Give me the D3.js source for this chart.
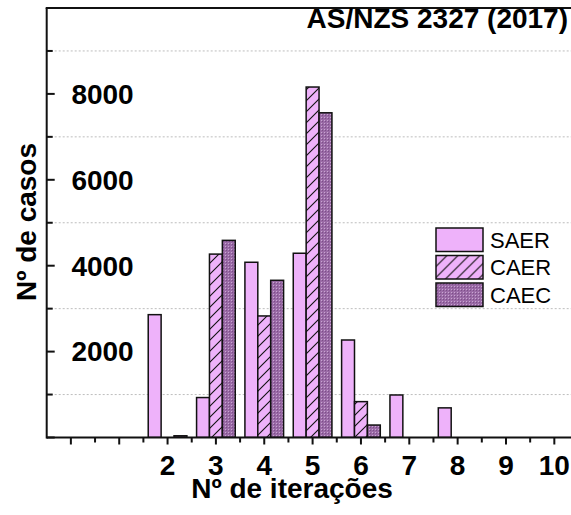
<!DOCTYPE html>
<meta charset="utf-8">
<style>
body { margin: 0; background: #fff; }
svg { display: block; font-family: Arial, "Liberation Sans", sans-serif; }
.grid line { stroke: #bdbdbd; stroke-width: 1; stroke-dasharray: 2,2; }
.bar { stroke: #111; stroke-width: 1.5px; }
.lbl { font-weight: bold; font-size: 28px; fill: #000; }
</style>
<svg width="571" height="515"></svg>
<script src="https://d3js.org/d3.v7.min.js"></script>
<script>

// data
var iteracoes = [2, 3, 4, 5, 6, 7, 8, 9, 10];
var saer = [2860, 930, 4080, 4290, 2270, 990, 690, 0, 0];
var caer = [0, 4270, 2830, 8160, 835, 0, 0, 0, 0];
var caec = [40, 4590, 3660, 7560, 290, 0, 0, 0, 0];
var series = ["SAER", "CAER", "CAEC"];
var yTicks = [2000, 4000, 6000, 8000];
var titulo = "AS/NZS 2327 (2017)";

var svg = d3.select("svg"),
    mLeft = 46.7, mTop = 8, mBottom = 437.5, mRight = 578.5;

var x = d3.scaleLinear().domain([-0.5, 10.5]).range([mLeft, mRight]),
    y = d3.scaleLinear().domain([0, 10000]).range([mBottom, mTop]);

var defs = svg.append("defs");

// hatch for CAER
var hatch = defs.append("pattern")
    .attr("id", "hatch")
    .attr("patternUnits", "userSpaceOnUse")
    .attr("width", 11).attr("height", 11);
hatch.append("rect").attr("width", 11).attr("height", 11).attr("fill", "#eeb2fa");
hatch.append("path").attr("d", "M0,11 L11,0 M-2,2 L2,-2 M9,13 L13,9")
    .attr("stroke", "#111").attr("stroke-width", 1.1);

// dots for CAEC
var dots = defs.append("pattern")
    .attr("id", "dots")
    .attr("patternUnits", "userSpaceOnUse")
    .attr("width", 3).attr("height", 3);
dots.append("rect").attr("width", 3).attr("height", 3).attr("fill", "#9a6aa6");
dots.append("rect").attr("width", 1).attr("height", 1).attr("fill", "#c9a6d2");
dots.append("rect").attr("x", 1).attr("y", 1).attr("width", 1).attr("height", 1).attr("fill", "#7c4f88");

var fills = {SAER: "#eeb2fa", CAER: "url(#hatch)", CAEC: "url(#dots)"};
var valores = {SAER: saer, CAER: caer, CAEC: caec};

var clip = defs.append("clipPath").attr("id", "plot");
clip.append("rect").attr("x", mLeft).attr("y", mTop).attr("width", mRight - mLeft).attr("height", mBottom - mTop);

// dotted grid at the odd thousands
svg.append("g")
    .attr("class", "grid")
  .selectAll("line")
  .data(d3.range(1000, 10000, 2000))
  .enter().append("line")
    .attr("x1", mLeft).attr("x2", 571)
    .attr("y1", function(d) { return y(d); })
    .attr("y2", function(d) { return y(d); });

// bars
var groupW = 0.8, barW = groupW / 3;
var g = svg.append("g").attr("clip-path", "url(#plot)");
series.forEach(function(s, i) {
  var rows = iteracoes.map(function(it, j) { return {it: it, v: valores[s][j]}; })
      .filter(function(d) { return d.v > 0; });
  g.selectAll(".bar-" + s)
    .data(rows)
    .enter().append("rect")
      .attr("class", "bar bar-" + s)
      .attr("x", function(d) { return x(d.it - groupW / 2 + i * barW); })
      .attr("width", x(barW) - x(0))
      .attr("y", function(d) { return y(d.v); })
      .attr("height", function(d) { return y(0) - y(d.v); })
      .attr("fill", fills[s]);
});

// x axis: ticks outward, major on integers, minor on halves
var xAxis = svg.append("g").attr("transform", "translate(0," + mBottom + ")");
xAxis.append("line").attr("x1", mLeft).attr("x2", 571).attr("stroke", "#111").attr("stroke-width", 2);
xAxis.selectAll(".maj")
  .data(d3.range(0, 11))
  .enter().append("line")
    .attr("x1", function(d) { return x(d); }).attr("x2", function(d) { return x(d); })
    .attr("y1", 0).attr("y2", 7)
    .attr("stroke", "#111").attr("stroke-width", 2);
xAxis.selectAll(".min")
  .data(d3.range(0.5, 10.5, 1))
  .enter().append("line")
    .attr("x1", function(d) { return x(d); }).attr("x2", function(d) { return x(d); })
    .attr("y1", 0).attr("y2", 5)
    .attr("stroke", "#111").attr("stroke-width", 2);
xAxis.selectAll("text")
  .data(iteracoes)
  .enter().append("text")
    .attr("class", "lbl")
    .attr("x", function(d) { return x(d); })
    .attr("y", 37.5)
    .attr("text-anchor", "middle")
    .text(function(d) { return d; });

// y axis: ticks inward, labels inside the plot
var yAxis = svg.append("g").attr("transform", "translate(" + mLeft + ",0)");
yAxis.append("line").attr("y1", mTop).attr("y2", mBottom + 1).attr("stroke", "#111").attr("stroke-width", 2);
yAxis.selectAll(".maj")
  .data(d3.range(0, 10001, 2000))
  .enter().append("line")
    .attr("y1", function(d) { return y(d); }).attr("y2", function(d) { return y(d); })
    .attr("x1", 0).attr("x2", 8)
    .attr("stroke", "#111").attr("stroke-width", 2);
yAxis.selectAll(".min")
  .data(d3.range(1000, 10000, 2000))
  .enter().append("line")
    .attr("y1", function(d) { return y(d); }).attr("y2", function(d) { return y(d); })
    .attr("x1", 0).attr("x2", 6)
    .attr("stroke", "#111").attr("stroke-width", 2);
yAxis.selectAll("text")
  .data(yTicks)
  .enter().append("text")
    .attr("class", "lbl")
    .attr("x", 87)
    .attr("y", function(d) { return y(d); })
    .attr("dy", "0.35em")
    .attr("text-anchor", "end")
    .text(function(d) { return d; });

// top frame line
svg.append("line")
    .attr("x1", mLeft - 1).attr("x2", 571)
    .attr("y1", mTop).attr("y2", mTop)
    .attr("stroke", "#111").attr("stroke-width", 2);

// titles
svg.append("text")
    .attr("class", "lbl")
    .attr("x", 568).attr("y", 28)
    .attr("text-anchor", "end")
    .text(titulo);

svg.append("text")
    .attr("class", "lbl")
    .attr("x", 292).attr("y", 498)
    .attr("text-anchor", "middle")
    .text("Nº de iterações");

svg.append("text")
    .attr("class", "lbl")
    .attr("transform", "translate(36,222) rotate(-90)")
    .attr("text-anchor", "middle")
    .text("Nº de casos");

// legend
var legend = svg.append("g").attr("transform", "translate(436,228)");
var item = legend.selectAll("g")
  .data(series)
  .enter().append("g")
    .attr("transform", function(d, i) { return "translate(0," + i * 27.5 + ")"; });
item.append("rect")
    .attr("class", "bar")
    .attr("width", 47).attr("height", 23.5)
    .attr("fill", function(d) { return fills[d]; });
item.append("text")
    .attr("x", 54).attr("y", 12)
    .attr("dy", "0.36em")
    .style("font-size", "22px")
    .text(function(d) { return d; });

</script>
